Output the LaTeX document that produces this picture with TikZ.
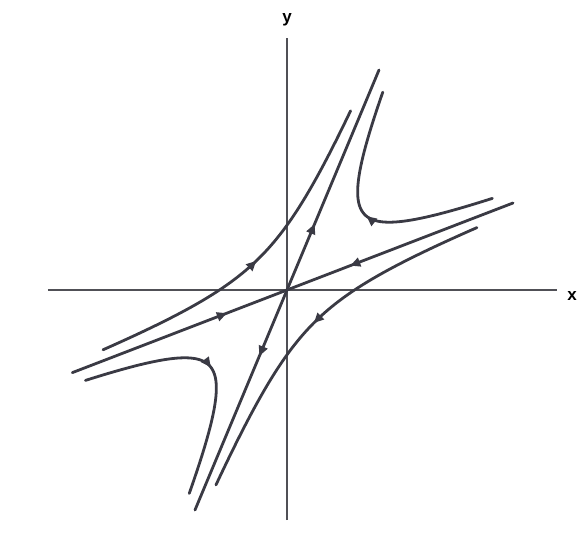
\documentclass[tikz,border=0pt]{standalone}
\usepackage{fontspec}
\setsansfont{Liberation Sans}
\usetikzlibrary{arrows.meta, decorations.markings}
\definecolor{curvegray}{RGB}{58,58,68}
\definecolor{axisgray}{RGB}{80,80,86}
\tikzset{
  orbit/.style={line width=2.8pt, color=curvegray, line cap=round},
  axisline/.style={line width=1.9pt, color=axisgray},
  flowmark/.style={postaction={decorate}, decoration={markings,
    mark=at position #1 with {\arrow{Triangle[length=10pt, width=9pt]}}}},
  flowmark/.default=0.5,
  axislabel/.style={font=\sffamily\bfseries\fontsize{17}{19}\selectfont}
}

\begin{document}
\begin{tikzpicture}[x=1pt, y=1pt]
  \useasboundingbox (-287,-251) rectangle (292,290);

  % Axes
  \coordinate (xl) at (-239,0);
  \coordinate (xr) at (270,0);
  \coordinate (yb) at (0,-230);
  \coordinate (yt) at (0,252);
  \draw[axisline] (xl) -- (xr);
  \draw[axisline] (yb) -- (yt);
  \node[axislabel] (xlab) at (285,-6) {x};
  \node[axislabel] (ylab) at (0,270) {y};

  % Eigen-coordinates: steep direction (a) and shallow direction (b)
  \begin{scope}[x={(92pt,220pt)}, y={(226pt,87pt)}]
    \coordinate (O) at (0,0);
    \coordinate (steepup) at (1,0);
    \coordinate (steepdn) at (-1,0);
    \coordinate (flatr) at (0,1);
    \coordinate (flatl) at (0,-0.95);

    % Unstable line (steep)
    \draw[orbit, flowmark=0.3] (O) -- (steepup);
    \draw[orbit, flowmark=0.3] (O) -- (steepdn);

    % Stable line (shallow)
    \draw[orbit, flowmark=0.72] (flatr) -- (O);
    \draw[orbit, flowmark=0.72] (flatl) -- (O);

    % Hyperbolic orbits, a*b = const
    \draw[orbit, flowmark] plot[domain=-1.28:1.27, samples=60]
      ({0.245*exp(\x)}, {0.245*exp(-\x)});
    \draw[orbit, flowmark] plot[domain=-1.26:1.3, samples=60]
      ({-0.245*exp(\x)}, {-0.245*exp(-\x)});
    \draw[orbit, flowmark] plot[domain=-1.32:1.32, samples=60]
      ({0.224*exp(\x)}, {-0.224*exp(-\x)});
    \draw[orbit, flowmark] plot[domain=-1.35:1.4, samples=60]
      ({-0.224*exp(\x)}, {0.224*exp(-\x)});
  \end{scope}
\end{tikzpicture}
\end{document}
